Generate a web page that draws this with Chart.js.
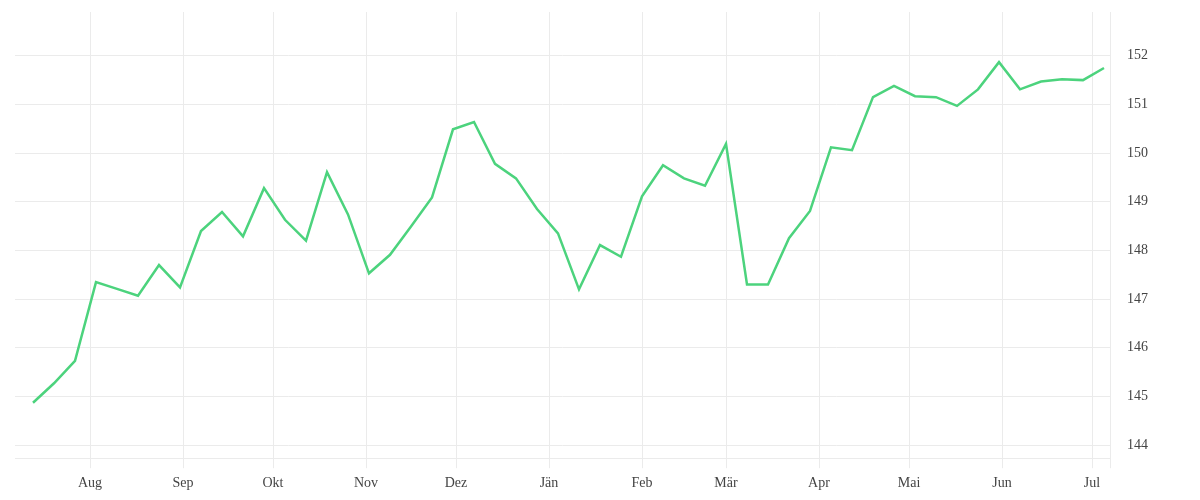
<!DOCTYPE html>
<html lang="de">
<head>
<meta charset="utf-8">
<title>Kursverlauf</title>
<script src="https://cdn.jsdelivr.net/npm/chart.js@4.4.1/dist/chart.umd.min.js"></script>
<style>
  html, body { margin: 0; padding: 0; background: #fff; }
  #wrap { width: 1200px; height: 500px; }
</style>
</head>
<body>
<div id="wrap"><canvas id="chart"></canvas></div>
<script>
// weekly closing values
const dates = [
  "2022-07-13", "2022-07-20", "2022-07-27", "2022-08-03", "2022-08-10", "2022-08-17",
  "2022-08-24", "2022-08-31", "2022-09-07", "2022-09-14", "2022-09-21", "2022-09-28",
  "2022-10-05", "2022-10-12", "2022-10-19", "2022-10-26", "2022-11-02", "2022-11-09",
  "2022-11-16", "2022-11-23", "2022-11-30", "2022-12-07", "2022-12-14", "2022-12-21",
  "2022-12-28", "2023-01-04", "2023-01-11", "2023-01-18", "2023-01-25", "2023-02-01",
  "2023-02-08", "2023-02-15", "2023-02-22", "2023-03-01", "2023-03-08", "2023-03-15",
  "2023-03-22", "2023-03-29", "2023-04-05", "2023-04-12", "2023-04-19", "2023-04-26",
  "2023-05-03", "2023-05-10", "2023-05-17", "2023-05-24", "2023-05-31", "2023-06-07",
  "2023-06-14", "2023-06-21", "2023-06-28", "2023-07-05"
];
const values = [
  144.87, 145.27, 145.73, 147.35, 147.21, 147.07, 147.70, 147.24, 148.40, 148.79,
  148.29, 149.28, 148.63, 148.20, 149.61, 148.74, 147.53, 147.91, 148.49, 149.09,
  150.49, 150.64, 149.78, 149.48, 148.85, 148.35, 147.20, 148.11, 147.87, 149.11,
  149.75, 149.48, 149.33, 150.19, 147.30, 147.30, 148.25, 148.81, 150.12, 150.06,
  151.15, 151.38, 151.17, 151.15, 150.97, 151.31, 151.87, 151.31, 151.47, 151.52,
  151.50, 151.75
];

// axis
const monthStarts = [
  "2022-08-01", "2022-09-01", "2022-10-01", "2022-11-01", "2022-12-01", "2023-01-01",
  "2023-02-01", "2023-03-01", "2023-04-01", "2023-05-01", "2023-06-01", "2023-07-01"
];
const monthNames = ["Jän", "Feb", "Mär", "Apr", "Mai", "Jun", "Jul", "Aug", "Sep", "Okt", "Nov", "Dez"];
const yTicks = [144, 145, 146, 147, 148, 149, 150, 151, 152];
const xRange = ["2022-07-07", "2023-07-07"];
const yRange = [143.73, 152.9];

const gridColor = "#ebebeb";
const textColor = "#444";

const points = dates.map((d, i) => ({ x: Date.parse(d), y: values[i] }));
const xMin = Date.parse(xRange[0]);
const xMax = Date.parse(xRange[1]);

new Chart(document.getElementById("chart"), {
  type: "line",
  data: {
    datasets: [{
      data: points,
      borderColor: "#4cd37d",
      borderWidth: 2.5,
      pointRadius: 0,
      tension: 0,
      fill: false
    }]
  },
  options: {
    responsive: true,
    maintainAspectRatio: false,
    animation: false,
    layout: { padding: { left: 15, right: 35, top: 12, bottom: 1 } },
    plugins: {
      legend: { display: false },
      tooltip: { enabled: false }
    },
    scales: {
      x: {
        type: "linear",
        min: xMin,
        max: xMax,
        afterBuildTicks: (scale) => {
          scale.ticks = monthStarts.map((m) => ({ value: Date.parse(m) }));
          // closing line at the right edge
          scale.ticks.push({ value: xMax });
        },
        ticks: {
          autoSkip: false,
          maxRotation: 0,
          padding: 7,
          color: textColor,
          font: { family: "'Liberation Serif', serif", size: 14 },
          callback: (v) => (v === xMax ? "" : monthNames[new Date(v).getUTCMonth()])
        },
        grid: { color: gridColor, tickLength: 10, tickColor: gridColor },
        border: { color: gridColor }
      },
      y: {
        position: "right",
        min: yRange[0],
        max: yRange[1],
        afterBuildTicks: (scale) => {
          scale.ticks = yTicks.map((v) => ({ value: v }));
        },
        afterFit: (scale) => {
          // labels sit well inside the plot, no extra room needed
          scale.paddingTop = 0;
          scale.paddingBottom = 0;
        },
        ticks: {
          padding: 17,
          color: textColor,
          font: { family: "'Liberation Serif', serif", size: 14 }
        },
        grid: { color: gridColor, drawTicks: false },
        border: { display: false }
      }
    }
  }
});
</script>
</body>
</html>
